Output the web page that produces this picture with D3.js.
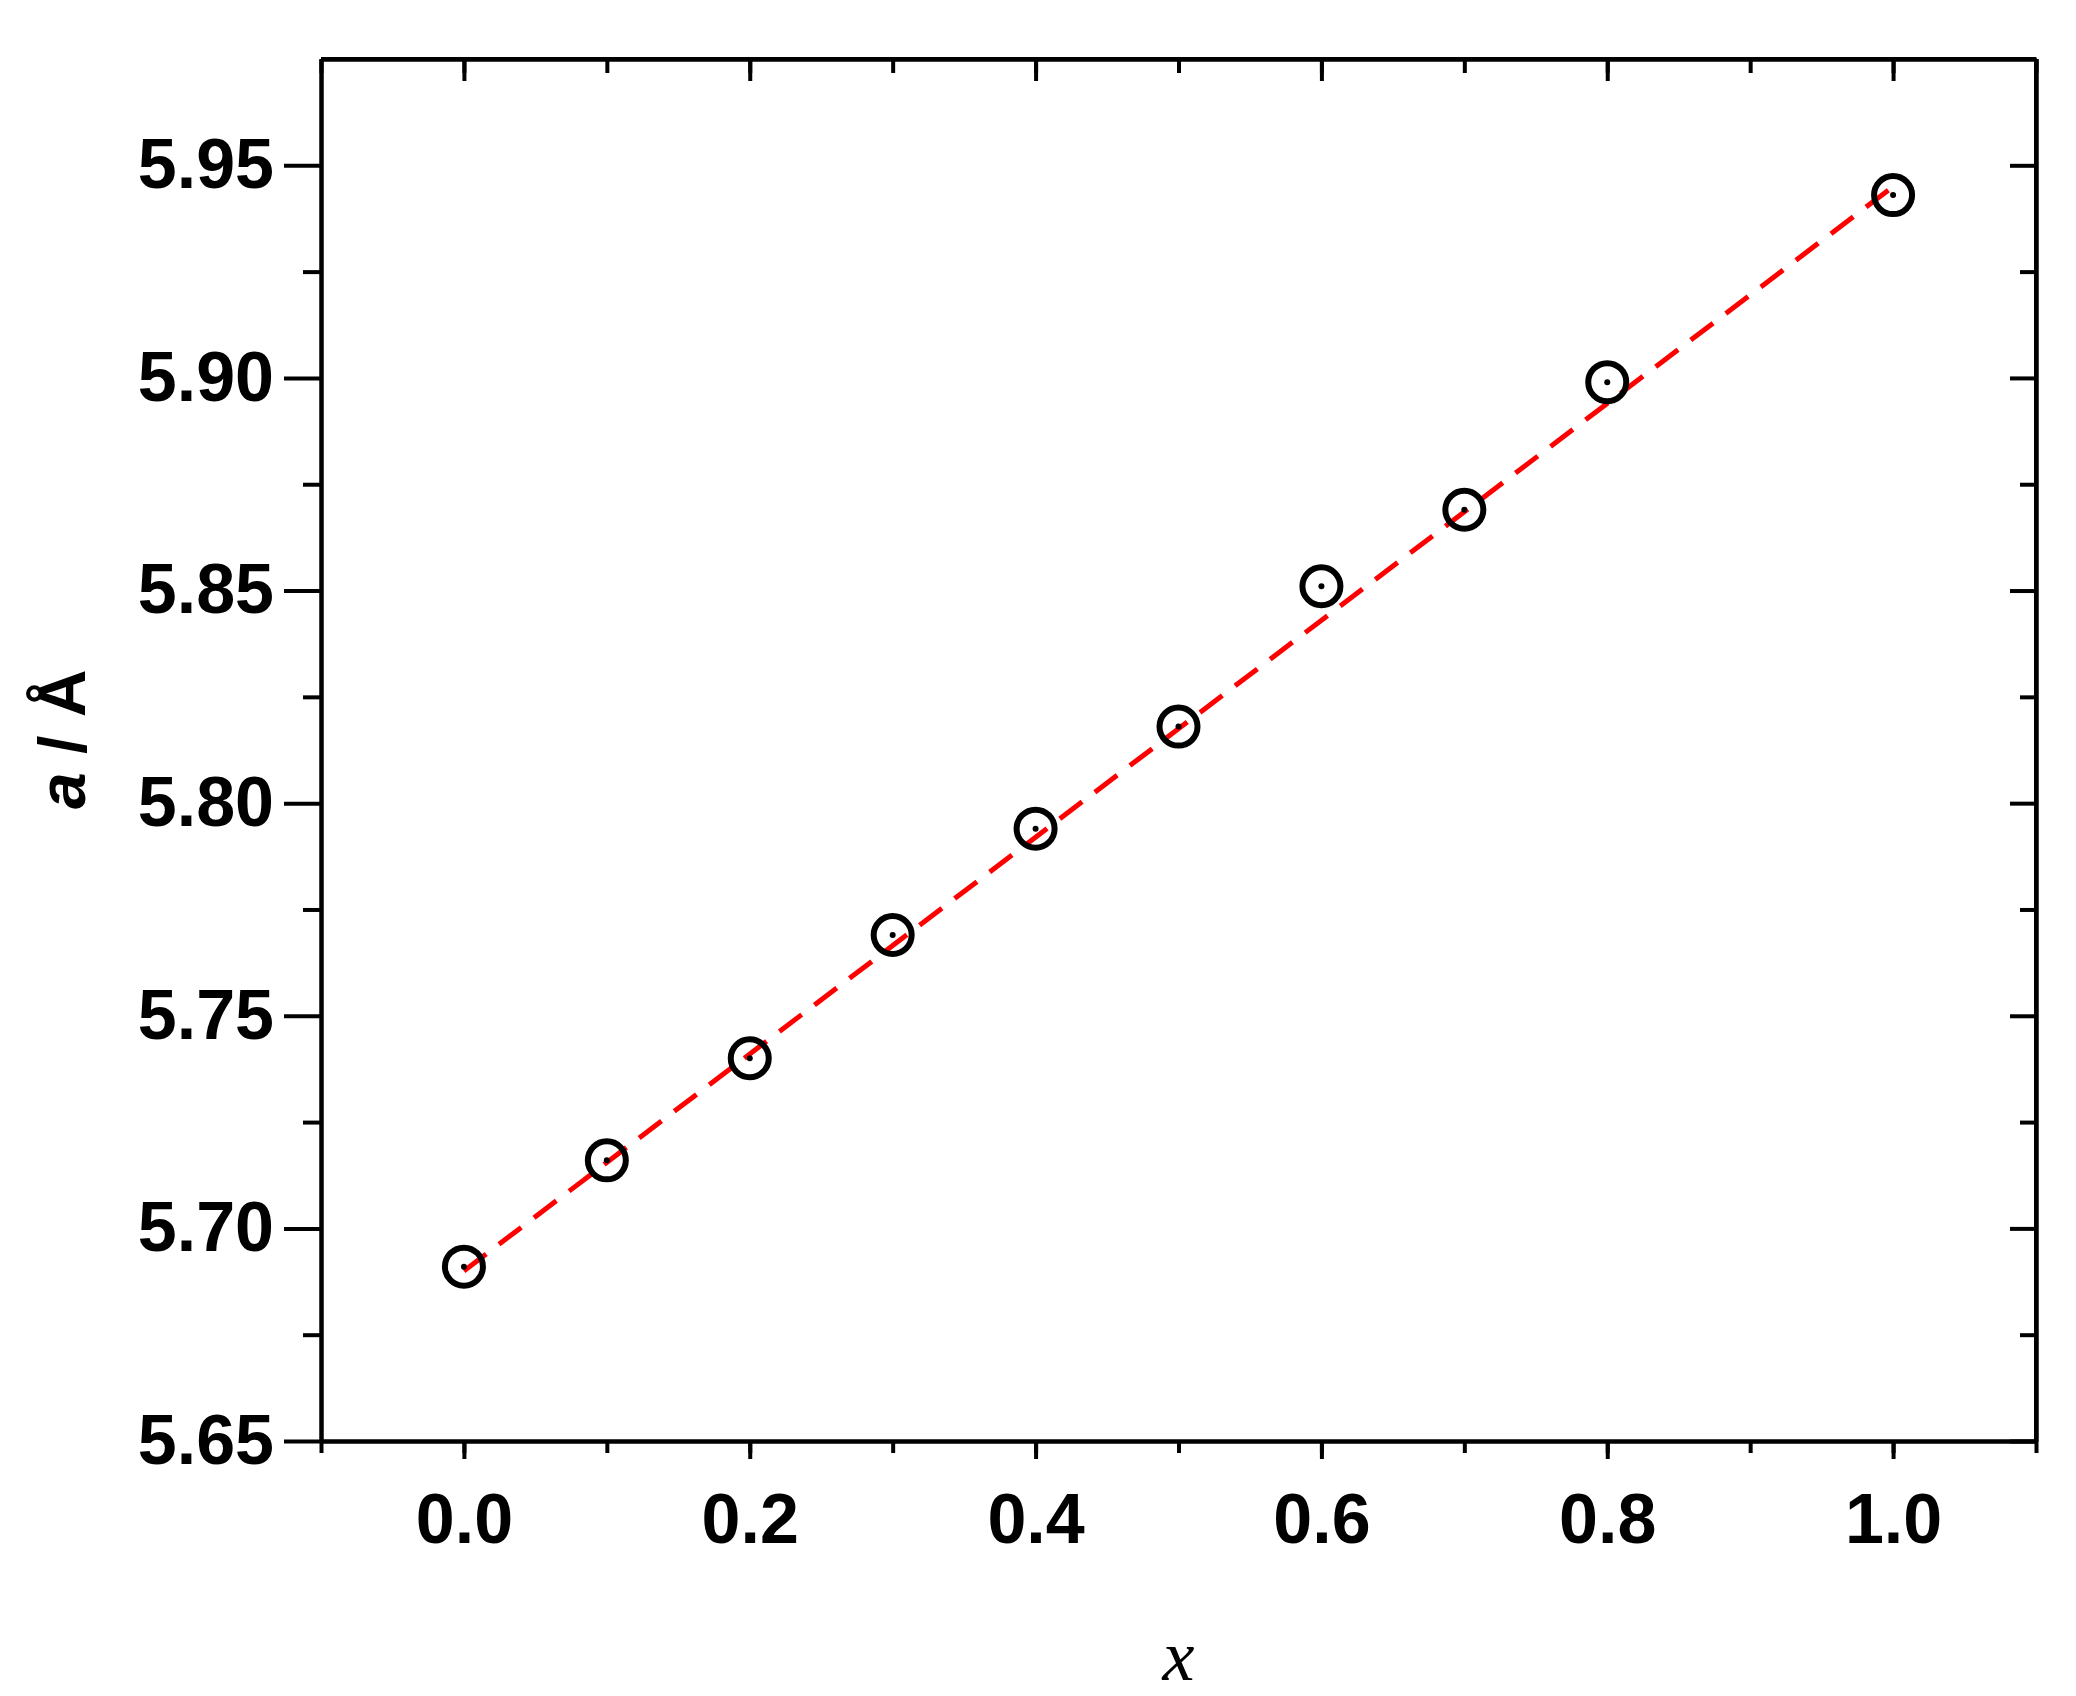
<!DOCTYPE html>
<html><head><meta charset="utf-8">
<script src="https://cdn.jsdelivr.net/npm/d3@7"></script>
<style>body{margin:0;background:#fff}</style></head>
<body><div data-d3="chart"></div>
<script>
const xs = [0, 0.1, 0.2, 0.3, 0.4, 0.5, 0.6, 0.7, 0.8, 0.9, 1.0].filter(v => v !== 0.9)
const aValues = [5.691, 5.716, 5.740, 5.769, 5.794, 5.818, 5.851, 5.869, 5.899, 5.943]
const fitX = [0, 1]
const fitY = [5.690, 5.945]
const xTicks = [0, 0.2, 0.4, 0.6, 0.8, 1.0]
const yTicks = [5.65, 5.70, 5.75, 5.80, 5.85, 5.90, 5.95]

const width = 2076, height = 1696
const m = {left: 321, right: 40, top: 59, bottom: 255}
const x = d3.scaleLinear().domain([-0.1, 1.1]).range([m.left, width - m.right])
const y = d3.scaleLinear().domain([5.65, 5.975]).range([height - m.bottom, m.top])
const font = '"Liberation Sans Narrow", "Liberation Sans", Arial, sans-serif'

const svg = d3.select('[data-d3="chart"]').append('svg')
  .attr('width', width).attr('height', height)

const xMinor = d3.range(-0.1, 1.1001, 0.1)
const yMinor = d3.range(5.675, 5.975, 0.05)
const sw = 4

const axis = (gen, tf) => {
  const g = svg.append('g').attr('transform', tf).call(gen)
  g.selectAll('path,line').attr('stroke', '#000').attr('stroke-width', sw)
  g.selectAll('text').attr('font-family', font).attr('font-weight', 'bold')
    .attr('font-size', 70).attr('fill', '#000')
  return g
}
const bottomY = y.range()[0], topY = y.range()[1]
const leftX = x.range()[0], rightX = x.range()[1]

axis(d3.axisBottom(x).tickValues(xTicks).tickFormat(d3.format('.1f')).tickSize(18).tickPadding(34).tickSizeOuter(0), `translate(0,${bottomY})`)
axis(d3.axisBottom(x).tickValues(xMinor).tickFormat('').tickSize(12).tickSizeOuter(0), `translate(0,${bottomY})`)
axis(d3.axisTop(x).tickValues(xTicks).tickFormat('').tickSize(-22).tickSizeOuter(0), `translate(0,${topY})`)
axis(d3.axisTop(x).tickValues(xMinor).tickFormat('').tickSize(-14).tickSizeOuter(0), `translate(0,${topY})`)
axis(d3.axisLeft(y).tickValues(yTicks).tickFormat(d3.format('.2f')).tickSize(37).tickPadding(10).tickSizeOuter(0), `translate(${leftX},0)`)
axis(d3.axisLeft(y).tickValues(yMinor).tickFormat('').tickSize(18).tickSizeOuter(0), `translate(${leftX},0)`)
axis(d3.axisRight(y).tickValues(yTicks).tickFormat('').tickSize(-26).tickSizeOuter(0), `translate(${rightX},0)`)
axis(d3.axisRight(y).tickValues(yMinor).tickFormat('').tickSize(-16).tickSizeOuter(0), `translate(${rightX},0)`)

svg.append('line').attr('x1', leftX).attr('x2', rightX).attr('y1', topY).attr('y2', topY)
  .attr('stroke', '#000').attr('stroke-width', sw)
svg.append('line').attr('x1', rightX).attr('x2', rightX).attr('y1', topY).attr('y2', bottomY)
  .attr('stroke', '#000').attr('stroke-width', sw)

svg.append('path').datum(fitX.map((v, i) => [v, fitY[i]]))
  .attr('d', d3.line().x(d => x(d[0])).y(d => y(d[1])))
  .attr('fill', 'none').attr('stroke', '#f00').attr('stroke-width', 5)
  .attr('stroke-dasharray', '28,16')

const pts = svg.append('g').selectAll('g').data(xs.map((v, i) => [v, aValues[i]])).enter().append('g')
  .attr('transform', d => `translate(${x(d[0])},${y(d[1])})`)
pts.append('circle').attr('r', 19).attr('fill', 'none').attr('stroke', '#000').attr('stroke-width', 6)
pts.append('circle').attr('r', 3).attr('fill', '#000')

svg.append('text').attr('x', x(0.5)).attr('y', 1680)
  .attr('text-anchor', 'middle').attr('font-family', '"Liberation Serif", serif')
  .attr('font-style', 'italic').attr('font-size', 72).text('x')
svg.append('text').attr('transform', `translate(85,${y(5.815)}) rotate(-90)`)
  .attr('text-anchor', 'middle').attr('font-family', '"Liberation Sans", Arial, sans-serif')
  .attr('font-weight', 'bold').attr('font-size', 66)
  .call(t => { t.append('tspan').attr('font-style', 'italic').text('a'); t.append('tspan').text(' / Å') })
</script></body></html>
